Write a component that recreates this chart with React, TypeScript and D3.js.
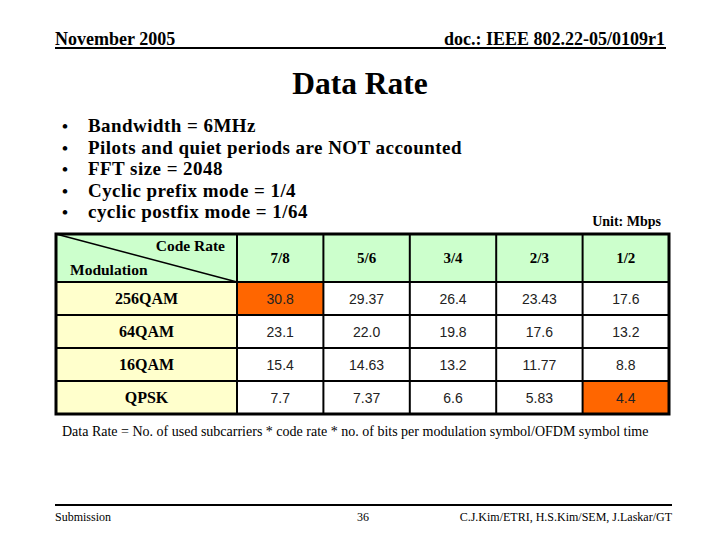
import React from "react";
import * as d3 from "d3";

const codeRates = ["7/8", "5/6", "3/4", "2/3", "1/2"];
const modulations = ["256QAM", "64QAM", "16QAM", "QPSK"];
const rate256QAM = ["30.8", "29.37", "26.4", "23.43", "17.6"];
const rate64QAM = ["23.1", "22.0", "19.8", "17.6", "13.2"];
const rate16QAM = ["15.4", "14.63", "13.2", "11.77", "8.8"];
const rateQPSK = ["7.7", "7.37", "6.6", "5.83", "4.4"];
const highlighted = [
  ["256QAM", "7/8"],
  ["QPSK", "1/2"],
];
const bullets = [
  "Bandwidth = 6MHz",
  "Pilots and quiet periods are NOT accounted",
  "FFT size = 2048",
  "Cyclic prefix mode = 1/4",
  "cyclic postfix mode = 1/64",
];

const SERIF = "'Liberation Serif', 'Times New Roman', serif";
const SANS = "'Liberation Sans', Arial, sans-serif";

export default function App() {
  const rows = [rate256QAM, rate64QAM, rate16QAM, rateQPSK];
  const tableLeft = 56;
  const labelRight = 237;
  const tableRight = 669;
  const tableTop = 234;
  const headerBottom = 282;
  const tableBottom = 414;

  const x = d3.scaleBand<string>().domain(codeRates).range([labelRight, tableRight]).padding(0);
  const y = d3.scaleBand<string>().domain(modulations).range([headerBottom, tableBottom]).padding(0);
  const bulletY = d3.scalePoint<number>().domain(d3.range(bullets.length)).range([132, 218]);

  const isHi = (m: string, c: string) => highlighted.some(([a, b]) => a === m && b === c);

  return (
    <svg
      width={720}
      height={540}
      style={{ position: "absolute", left: 0, top: 0, background: "#fff" }}
    >
      <rect x={0} y={0} width={720} height={540} fill="#fff" />
      {/* header */}
      <text x={55} y={45} fontFamily={SERIF} fontWeight="bold" fontSize={18}>
        November 2005
      </text>
      <text x={665} y={45} textAnchor="end" fontFamily={SERIF} fontWeight="bold" fontSize={18}>
        doc.: IEEE 802.22-05/0109r1
      </text>
      <line x1={55} x2={666} y1={48} y2={48} stroke="#000" strokeWidth={2} />

      {/* title */}
      <text x={360} y={94} textAnchor="middle" fontFamily={SERIF} fontWeight="bold" fontSize={31.5}>
        Data Rate
      </text>

      {/* bullets */}
      {bullets.map((b, i) => (
        <g key={i}>
          <text x={62} y={bulletY(i)!} fontFamily={SERIF} fontWeight="bold" fontSize={17}>
            •
          </text>
          <text
            x={88}
            y={bulletY(i)!}
            fontFamily={SERIF}
            fontWeight="bold"
            fontSize={19}
            letterSpacing={0.45}
          >
            {b}
          </text>
        </g>
      ))}

      <text x={661} y={226} textAnchor="end" fontFamily={SERIF} fontWeight="bold" fontSize={14}>
        Unit: Mbps
      </text>

      {/* table backgrounds */}
      <rect x={tableLeft} y={tableTop} width={tableRight - tableLeft} height={headerBottom - tableTop} fill="#CCFFCC" />
      <rect x={tableLeft} y={headerBottom} width={labelRight - tableLeft} height={tableBottom - headerBottom} fill="#FFFFCC" />
      {modulations.map((m) =>
        codeRates.map((c) => (
          <rect
            key={m + c}
            x={x(c)!}
            y={y(m)!}
            width={x.bandwidth()}
            height={y.bandwidth()}
            fill={isHi(m, c) ? "#FF6600" : "#FFFFFF"}
          />
        ))
      )}

      {/* header cells */}
      <line x1={tableLeft} y1={tableTop} x2={labelRight} y2={headerBottom} stroke="#000" strokeWidth={1.5} />
      <text x={225} y={251} textAnchor="end" fontFamily={SERIF} fontWeight="bold" fontSize={15.5}>
        Code Rate
      </text>
      <text x={70} y={275} fontFamily={SERIF} fontWeight="bold" fontSize={15.5}>
        Modulation
      </text>
      {codeRates.map((c) => (
        <text
          key={c}
          x={x(c)! + x.bandwidth() / 2}
          y={(tableTop + headerBottom) / 2 + 5}
          textAnchor="middle"
          fontFamily={SERIF}
          fontWeight="bold"
          fontSize={15}
        >
          {c}
        </text>
      ))}

      {/* rows */}
      {modulations.map((m, ri) => (
        <g key={m}>
          <text
            x={(tableLeft + labelRight) / 2}
            y={y(m)! + y.bandwidth() / 2 + 5}
            textAnchor="middle"
            fontFamily={SERIF}
            fontWeight="bold"
            fontSize={16}
          >
            {m}
          </text>
          {codeRates.map((c, ci) => (
            <text
              key={c}
              x={x(c)! + x.bandwidth() / 2}
              y={y(m)! + y.bandwidth() / 2 + 5}
              textAnchor="middle"
              fontFamily={SANS}
              fontSize={14}
              fill="#222"
            >
              {rows[ri][ci]}
            </text>
          ))}
        </g>
      ))}

      {/* grid lines */}
      {[labelRight, ...codeRates.slice(1).map((c) => x(c)!)].map((xx, i) => (
        <line key={"v" + i} x1={xx} x2={xx} y1={tableTop} y2={tableBottom} stroke="#000" strokeWidth={2} />
      ))}
      {[headerBottom, ...modulations.slice(1).map((m) => y(m)!)].map((yy, i) => (
        <line key={"h" + i} x1={tableLeft} x2={tableRight} y1={yy} y2={yy} stroke="#000" strokeWidth={2} />
      ))}
      <rect
        x={tableLeft}
        y={tableTop}
        width={tableRight - tableLeft}
        height={tableBottom - tableTop}
        fill="none"
        stroke="#000"
        strokeWidth={3}
      />

      {/* formula */}
      <text x={62} y={436} fontFamily={SERIF} fontSize={14}>
        Data Rate = No. of used subcarriers * code rate * no. of bits per modulation symbol/OFDM symbol time
      </text>

      {/* footer */}
      <line x1={55} x2={672} y1={505} y2={505} stroke="#000" strokeWidth={2} />
      <text x={55} y={521} fontFamily={SERIF} fontSize={12}>
        Submission
      </text>
      <text x={363} y={521} textAnchor="middle" fontFamily={SERIF} fontSize={12}>
        36
      </text>
      <text x={672} y={521} textAnchor="end" fontFamily={SERIF} fontSize={12}>
        C.J.Kim/ETRI, H.S.Kim/SEM, J.Laskar/GT
      </text>
    </svg>
  );
}
